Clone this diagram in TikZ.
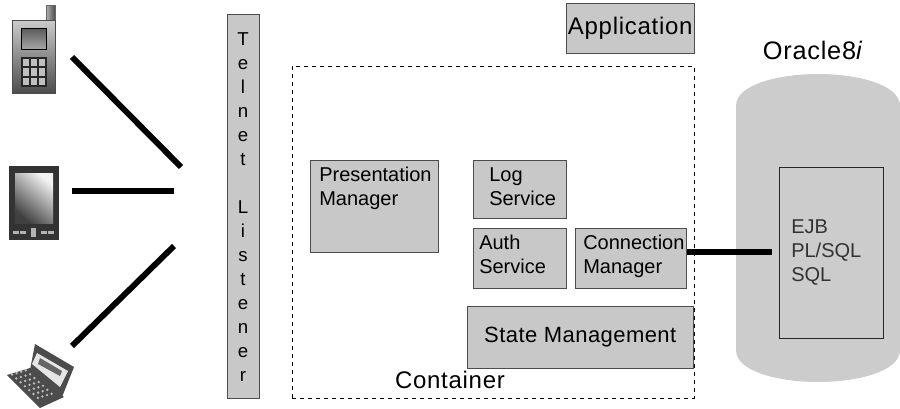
\documentclass[tikz,border=0pt]{standalone}
\usepackage{fontspec}
\setmainfont{Liberation Sans}
\usetikzlibrary{shapes,arrows}
\definecolor{boxgray}{HTML}{C8C8C8}
\definecolor{dbgray}{HTML}{CCCCCC}
\newcommand{\lblfont}{\fontsize{15}{18}\selectfont}
\tikzset{
	svcbox/.style={draw=black!70,fill=boxgray,anchor=north west,inner sep=0pt,align=left},
	svclabel/.style={anchor=north west,inner sep=0pt,align=left,font=\lblfont},
	wire/.style={line width=4.4pt,black},
}
\begin{document}
\begin{tikzpicture}[x=0.75pt,y=-0.75pt]
		\useasboundingbox (0,0) rectangle (900,408);
		% oracle cylinder
		\fill[dbgray] (736,106) .. controls (736,84) and (780,74) .. (818,74) .. controls (856,74) and (900,84) .. (900,106) -- (900,350) .. controls (900,372) and (856,382) .. (818,382) .. controls (780,382) and (736,372) .. (736,350) -- cycle;
		\node[font=\fontsize{19}{22}\selectfont\addfontfeature{LetterSpace=3}] (oracle) at (813,50) {Oracle8\textit{i}};
		\node[draw=black!85,fill=dbgray,minimum width=104*0.75pt,minimum height=171*0.75pt,anchor=north west,inner sep=0pt] (store) at (779,167) {};
		\node[anchor=north west,inner sep=0pt,align=left,font=\lblfont,text=black!80] (langs) at (791,219) {EJB\\PL/SQL\\SQL};
		% container
		\node[draw,dashed,minimum width=402*0.75pt,minimum height=332*0.75pt,anchor=north west,inner sep=0pt] (container) at (292,66) {};
		\node[font=\fontsize{18}{21}\selectfont\addfontfeature{LetterSpace=3}] (containerlabel) at (450,380) {Container};
		% boxes
		\node[svcbox,minimum width=128*0.75pt,minimum height=50*0.75pt,align=center,font=\fontsize{18}{21}\selectfont\addfontfeature{LetterSpace=3}] (app) at (566,3) {Application};
		\node[svcbox,minimum width=128*0.75pt,minimum height=92*0.75pt] (pres) at (310,160) {};
		\node[svclabel] (preslabel) at (319,167) {Presentation\\Manager};
		\node[svcbox,minimum width=93*0.75pt,minimum height=58*0.75pt] (log) at (473,160) {};
		\node[svclabel] (loglabel) at (489,167) {Log\\Service};
		\node[svcbox,minimum width=93*0.75pt,minimum height=60*0.75pt] (auth) at (473,228) {};
		\node[svclabel] (authlabel) at (479,235) {Auth\\Service};
		\node[svcbox,minimum width=111*0.75pt,minimum height=60*0.75pt] (conn) at (575,228) {};
		\node[svclabel] (connlabel) at (583,235) {Connection\\Manager};
		\node[svcbox,minimum width=226*0.75pt,minimum height=62*0.75pt,align=center,font=\fontsize{16.5}{20}\selectfont\addfontfeature{LetterSpace=2}] (state) at (467,306) {State Management};
		% listener
		\node[draw=black!70,fill=boxgray,minimum width=32*0.75pt,minimum height=384*0.75pt,anchor=north west,inner sep=0pt] (telnet) at (227,14) {};
		\node[align=center,inner sep=0pt,font=\fontsize{14}{18}\selectfont] (telnetlabel) at (243,207) {T\\e\\l\\n\\e\\t\\[18pt]L\\i\\s\\t\\e\\n\\e\\r};
		% phone
		\node[inner sep=0pt,minimum width=1pt] (phone) at (33,47) {};
		\shade[left color=black!30,right color=black!70,draw=black!60] (46,5) rectangle (55,20);
		\shade[top color=black!20,bottom color=black!70,draw=black!70] (12,20) rectangle (55,93);
		\shade[top color=black!65,bottom color=black!35,draw=black] (21,28) rectangle (46,49);
		\fill[black!85] (21,57) rectangle (47,87);
		\foreach \i in {0,1,2}
			\foreach \j in {0,1,2}
				\fill[black!25] (22.5+8*\i,58.5+9.5*\j) rectangle (29+8*\i,66+9.5*\j);
		% pda
		\node[inner sep=0pt,minimum width=1pt] (pda) at (33,205) {};
		\fill[black!80] (9,166) rectangle (59,240);
		\shade[left color=black!5,right color=black!75,shading angle=-40] (15,173) rectangle (53,223);
		\foreach \x in {13,20,41,48} \fill[black!30] (\x,231) rectangle (\x+6,234);
		\fill[black!30] (31,228) rectangle (36,237);
		% laptop
		\node[inner sep=0pt,minimum width=1pt] (laptop) at (40,375) {};
		\fill[black!70] (35,344) -- (74,367) -- (62,397) -- (30,370) -- cycle;
		\fill[black!10] (37,353) -- (68,371) -- (60,387) -- (32,364) -- cycle;
		\fill[black!60] (40,358) -- (62,371) -- (60,376) -- (38,364) -- cycle;
		\fill[black!70] (7,375) -- (30,368) -- (64,397) -- (40,408) -- cycle;
		\foreach \i in {0,...,6}
			\foreach \j in {0,...,3}
				\fill[black!25] (12+\i*4.3+\j*4.6,374.5+\i*3.9-\j*1.4) circle (1.3);
		% wires
		\coordinate (phoneend) at (72,57);
		\coordinate (phonelist) at (181,167);
		\coordinate (pdaend) at (72,191);
		\coordinate (pdalist) at (174,191);
		\coordinate (lapend) at (72,346);
		\coordinate (laplist) at (174,246);
		\coordinate (storeend) at (772,252);
		\draw[wire] (phoneend) -- (phonelist);
		\draw[wire] (pdaend) -- (pdalist);
		\draw[wire] (lapend) -- (laplist);
		\draw[wire] (conn.east |- storeend) -- (storeend);
		\end{tikzpicture}
\end{document}
